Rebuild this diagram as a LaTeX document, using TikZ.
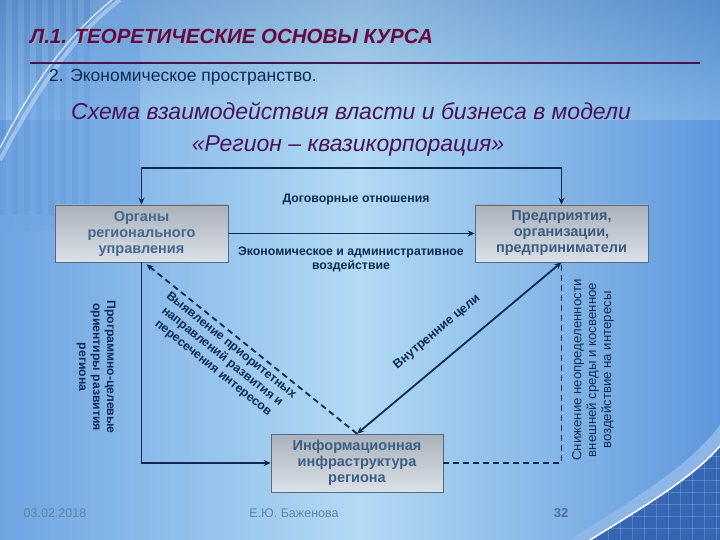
\documentclass[tikz,border=0pt]{standalone}
\usepackage{fontspec}
\setmainfont{Liberation Sans}
\usetikzlibrary{calc,arrows.meta}

\definecolor{titlered}{HTML}{5A0E48}
\definecolor{headpurple}{HTML}{4A1458}
\definecolor{navy}{HTML}{0E2A52}
\definecolor{boxtext}{HTML}{46678E}
\definecolor{foot}{HTML}{5F82A8}
\definecolor{bgside}{HTML}{6FA4E2}
\definecolor{bgmid}{HTML}{B2DAF4}
\definecolor{bgright}{HTML}{5E97DC}
\definecolor{gridblue}{HTML}{3566B4}

\tikzset{
  box/.style={draw=navy!70, line width=0.6pt, top color=black!42!boxtext!40, bottom color=white!80!boxtext,
    minimum width=173pt, minimum height=57pt, align=center, text=boxtext,
    font=\fontsize{14.5}{16}\selectfont\bfseries, inner sep=2pt},
  link/.style={navy, line width=1.8pt, arrows={-Stealth[length=7pt,width=6pt]}},
  label/.style={navy, font=\fontsize{12.3}{14}\selectfont\bfseries, align=center, inner sep=0pt},
}

\begin{document}
\begin{tikzpicture}[x=1pt, y=-1pt]
		%%%%% START %%%%%
		
		\useasboundingbox (0, 0) rectangle (720, 540);
		\shade[left color=bgside, right color=bgright, middle color=bgmid] (0, 0) rectangle (720, 540);
		\shade[top color=bgright!80!black, bottom color=bgmid, opacity=0.35] (0, 0) rectangle (720, 120);
		
		% stripes at the top left
		\foreach \sx in {0, 12, ..., 84}
			\fill[gridblue, opacity=0.2] (\sx, 0) rectangle (\sx + 6, 215);
		\fill[bgside, opacity=0.55] (0, 150) .. controls (40, 70) and (75, 30) .. (112, 0) -- (140, 0) -- (140, 230) -- (0, 230) -- cycle;
		\draw[white, opacity=0.7, line width=1.5pt] (0, 148) .. controls (40, 70) and (75, 30) .. (112, 0);
		\draw[white, opacity=0.35, line width=4pt] (0, 160) .. controls (45, 75) and (80, 30) .. (120, 0);
		
		% grid at the bottom right
		\fill[bgright!70!white] (570, 540) .. controls (640, 495) and (690, 465) .. (720, 425) -- (720, 540) -- cycle;
		\begin{scope}
			\clip (590, 540) .. controls (655, 500) and (695, 475) .. (720, 446) -- (720, 540) -- cycle;
			\fill[gridblue] (560, 420) rectangle (720, 540);
			\foreach \gx in {560, 572, ..., 720}
				\draw[white, opacity=0.18, line width=1pt] (\gx, 420) -- (\gx, 540);
			\foreach \gy in {420, 432, ..., 540}
				\draw[white, opacity=0.18, line width=1pt] (560, \gy) -- (720, \gy);
		\end{scope}
		\draw[white, line width=1.6pt] (590, 540) .. controls (655, 500) and (695, 475) .. (720, 446);
		
		% titles
		\node[anchor=west, text=titlered!40!white, opacity=0.5, font=\fontsize{20.5}{22}\selectfont\bfseries\itshape, inner sep=0pt] (kursshadow) at (31.5, 37.5) {Л.1. ТЕОРЕТИЧЕСКИЕ ОСНОВЫ КУРСА};
		\node[anchor=west, text=titlered, font=\fontsize{20.5}{22}\selectfont\bfseries\itshape, inner sep=0pt] (kurs) at (30, 36) {Л.1. ТЕОРЕТИЧЕСКИЕ ОСНОВЫ КУРСА};
		\draw[titlered!70!navy, line width=2.5pt] (30, 63) -- (700, 63);
		\node[anchor=west, text=navy, font=\fontsize{17.5}{19}\selectfont, inner sep=0pt] (razdel) at (49, 77) {2. Экономическое пространство.};
		\node[text=headpurple, font=\fontsize{23}{25}\selectfont\itshape, inner sep=0pt] (shema) at (351, 111) {Схема взаимодействия власти и бизнеса в модели};
		\node[text=headpurple, font=\fontsize{23}{25}\selectfont\itshape, inner sep=0pt] (model) at (348, 146) {«Регион – квазикорпорация»};
		
		% boxes
		\node[box] (organy) at (141.5, 233.5) {Органы\\регионального\\управления};
		\node[box, text=boxtext!80!navy] (predpr) at (561.5, 233.5) {Предприятия,\\организации,\\предприниматели};
		\node[box, minimum width=172pt, minimum height=58pt, text=boxtext!85!navy] (infra) at (357, 463) {Информационная\\инфраструктура\\региона};
		
		\coordinate (organyfoot) at ($(organy.south)+(5, 2)$);
		
		% connectors
		\draw[link, {Stealth[length=7pt,width=6pt]}-{Stealth[length=7pt,width=6pt]}] (organy.north) -- ++(0, -37) -| (predpr.north);
		\draw[link] (organy.east) -- (predpr.west);
		\draw[link] (organy.south) |- (infra.west);
		\draw[link, dashed, dash pattern=on 6pt off 4pt] (infra.north) -- (organyfoot);
		\draw[link, {Stealth[length=7pt,width=6pt]}-{Stealth[length=7pt,width=6pt]}] (infra.north) -- (predpr.south);
		\draw[navy, line width=1.8pt, dash pattern=on 6pt off 4pt] (infra.east) -| (predpr.south);
		
		% labels
		\node[label] (dogovor) at (356, 200) {Договорные отношения};
		\node[label] (vozd) at (351, 259) {Экономическое и административное\\воздействие};
		\node[label, rotate=-90, font=\fontsize{12.2}{14}\selectfont\bfseries] (orient) at (96, 367) {Программно-целевые\\ориентиры развития\\региона};
		\node[label, rotate=-38.6, font=\fontsize{12.3}{14.5}\selectfont\bfseries] (vyyav) at (222, 357) {Выявление приоритетных\\направлений развития и\\пересечения интересов};
		\node[label, rotate=40, font=\fontsize{12.6}{14}\selectfont\bfseries] (celi) at (437, 332) {Внутренние цели};
		\node[label, rotate=90, font=\fontsize{13.2}{14.8}\selectfont] (snizh) at (593, 370) {Снижение неопределенности\\внешней среды и косвенное\\воздействие на интересы};
		
		% footer
		\node[text=foot, font=\fontsize{12.5}{14}\selectfont, inner sep=0pt] (data) at (55, 513) {03.02.2018};
		\node[text=foot, font=\fontsize{12.5}{14}\selectfont, inner sep=0pt] (avtor) at (294, 513) {Е.Ю. Баженова};
		\node[text=foot!80!navy, font=\fontsize{13}{15}\selectfont\bfseries, inner sep=0pt] (nomer) at (561, 513) {32};
		
		%%%%% END %%%%%
	\end{tikzpicture}
\end{document}
